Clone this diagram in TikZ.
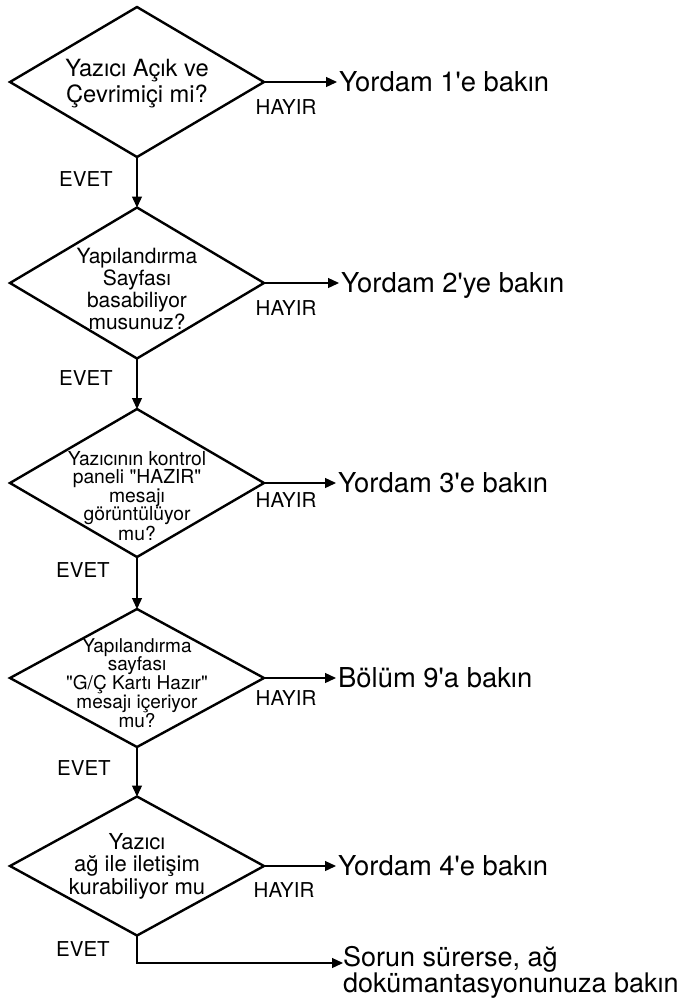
\documentclass[tikz,border=0pt]{standalone}
\usepackage{fontspec}
\newfontfamily\helv{TeX Gyre Heros}
\usepackage{tikz}
\usetikzlibrary{shapes.geometric, arrows.meta}

\begin{document}
\begin{tikzpicture}[x=1pt, y=-1pt,
        decision/.style={shape=diamond, draw=black, line width=2.4pt, minimum width=254pt, minimum height=#1, inner sep=0pt, outer sep=0pt},
        qtext/.style 2 args={align=center, inner sep=0pt, font=\helv\fontsize{#1}{#2}\selectfont},
        answer/.style={inner sep=0pt, font=\helv\fontsize{20.5}{22}\selectfont},
        target/.style={anchor=west, inner sep=2pt, text height=19.6pt, text depth=0pt, font=\helv\fontsize{27.4}{28}\selectfont},
        flow/.style={line width=1.3pt, -{Triangle[length=11pt, width=10pt]}}]
            \useasboundingbox (0,0) rectangle (693,1002);

            \node[decision=150pt] (q1) at (137,82) {};
            \node[decision=151pt] (q2) at (137,283) {};
            \node[decision=148pt] (q3) at (137,483) {};
            \node[decision=138pt] (q4) at (137,678) {};
            \node[decision=139pt] (q5) at (137,866) {};

            \node[qtext={23.7}{26}] (t1) at (137,84) {Yazıcı Açık ve\\Çevrimiçi mi?};
            \node[qtext={21}{22}] (t2) at (137,289) {Yapılandırma\\Sayfası\\basabiliyor\\musunuz?};
            \node[qtext={19.3}{18.5}] (t3) at (137,496) {Yazıcının kontrol\\paneli "HAZIR"\\mesajı\\görüntülüyor\\mu?};
            \node[qtext={19}{18.3}] (t4) at (137,683) {Yapılandırma\\sayfası\\"G/Ç Kartı Hazır"\\mesajı içeriyor\\mu?};
            \node[qtext={22}{22.5}] (t5) at (137,866) {Yazıcı\\ağ ile iletişim\\kurabiliyor mu};

            \node[target] (r1) at (337,82) {Yordam 1'e bakın};
            \node[target] (r2) at (339,283) {Yordam 2'ye bakın};
            \node[target] (r3) at (336,483) {Yordam 3'e bakın};
            \node[target] (r4) at (336,678) {Bölüm 9'a bakın};
            \node[target] (r5) at (336,866) {Yordam 4'e bakın};
            \node[anchor=north west, inner sep=0pt, align=left, font=\helv\fontsize{27}{25}\selectfont] (r6) at (343,946) {Sorun sürerse, ağ\\dokümantasyonunuza bakın};

            \node[answer] (h1) at (286,107) {HAYIR};
            \node[answer] (h2) at (286,308) {HAYIR};
            \node[answer] (h3) at (286,500) {HAYIR};
            \node[answer] (h4) at (286,698) {HAYIR};
            \node[answer] (h5) at (284,890) {HAYIR};

            \node[answer] (e1) at (86,179) {EVET};
            \node[answer] (e2) at (86,378) {EVET};
            \node[answer] (e3) at (83,570) {EVET};
            \node[answer] (e4) at (84,768) {EVET};
            \node[answer] (e5) at (83,949) {EVET};

            \path [flow] (q1.south) edge (q2.north);
            \path [flow] (q2.south) edge (q3.north);
            \path [flow] (q3.south) edge (q4.north);
            \path [flow] (q4.south) edge (q5.north);

            \path [flow] (q1.east) edge (r1.west);
            \path [flow] (q2.east) edge (r2.west);
            \path [flow] (q3.east) edge (r3.west);
            \path [flow] (q4.east) edge (r4.west);
            \path [flow] (q5.east) edge (r5.west);

            \draw [flow] (q5.south) |- (r6.west |- 0,963);
        \end{tikzpicture}
\end{document}
